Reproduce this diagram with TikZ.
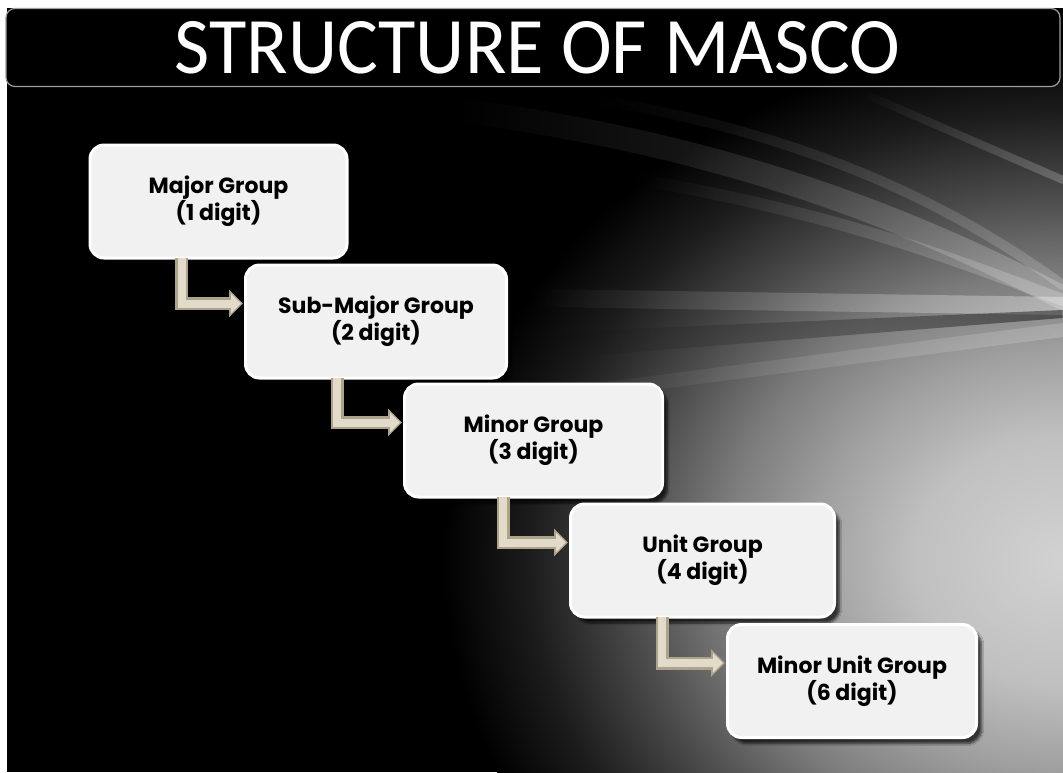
\documentclass[tikz,border=0pt]{standalone}
\usepackage{graphicx}
\usepackage{fontspec}
\setmainfont{Poppins}
\newfontfamily\titlefont{Carlito}
\usetikzlibrary{shadows,shadows.blur,calc,arrows.meta,fadings}
\definecolor{arrowc}{HTML}{E2DBC9}
\definecolor{arrowd}{HTML}{ADA38B}
\definecolor{boxfill}{HTML}{F1F1F1}
\definecolor{gA}{HTML}{D2D2D2}
\definecolor{gB}{HTML}{C0C0C0}
\definecolor{gC}{HTML}{A0A0A0}
\definecolor{gD}{HTML}{7C7C7C}
\definecolor{gE}{HTML}{4A4A4A}
\definecolor{gF}{HTML}{1C1C1C}
\pgfdeclareradialshading{glow}{\pgfpoint{0bp}{0bp}}{color(0bp)=(gA); color(6bp)=(gB); color(10bp)=(gC); color(13.7bp)=(gD); color(17.6bp)=(gE); color(21.5bp)=(gF); color(25bp)=(black); color(50bp)=(black)}
\tikzset{
  box/.style={rounded corners=14pt, fill=boxfill, draw=white, line width=3pt,
    minimum height=113pt, align=center, text=black,
    font=\bfseries\fontsize{22}{27}\selectfont,
    blur shadow={shadow xshift=5pt, shadow yshift=-6pt, shadow blur steps=8, shadow opacity=70}},
  elbowedge/.style={draw=arrowd, line width=13pt, shorten >=1pt,
    -{Triangle[length=14pt,width=27pt]}},
  elbow/.style={draw=arrowc, line width=8pt, shorten >=3pt,
    -{Triangle[length=10pt,width=19pt]}},
  ray/.style={white, line cap=round, path fading=west},
  titlebar/.style={rounded corners=9pt, fill=black, draw=gray!75, line width=1.2pt,
    minimum width=1054pt, minimum height=78pt, inner sep=0pt}
}
\begin{document}
\begin{tikzpicture}[x=1pt,y=-1pt]
\useasboundingbox (0,0) rectangle (1063,772);
\fill[white] (0,0) rectangle (1063,772);
\fill[black] (7,8) rectangle (1063,772);
\begin{scope}
  \clip (7,8) rectangle (1063,772);
  \shade[shading=glow] (1063,560) ellipse [x radius=620pt, y radius=520pt];
  % streaks converging to the right
  \draw[ray, opacity=0.22, line width=24pt] (470,112) .. controls (760,150) and (950,240) .. (1063,298);
  \draw[ray, opacity=0.18, line width=10pt] (600,100) .. controls (840,140) and (980,225) .. (1063,285);
  \draw[ray, opacity=0.22, line width=8pt] (860,92) -- (1063,180);
  \draw[ray, opacity=0.22, line width=12pt] (640,180) .. controls (850,215) and (980,270) .. (1063,300);
  \draw[ray, opacity=0.35, line width=18pt] (540,298) -- (1063,306);
  \fill[black, opacity=0.45, path fading=west] (560,332) -- (1063,310) -- (1063,318) -- (560,358) -- cycle;
  \draw[ray, opacity=0.18, line width=14pt] (520,400) -- (1063,330);
\end{scope}
\node[titlebar] (bar) at (533,47.5) {};
\node[font=\titlefont, text=white, inner sep=0pt] (title) at (537.5,48)
  {\resizebox{725pt}{52pt}{STRUCTURE OF MASCO}};

\node[box, minimum width=257pt] (b1) at (218.5,201.5) {Major Group\\(1 digit)};
\node[box, minimum width=261pt] (b2) at (376,321.5) {Sub-Major Group\\(2 digit)};
\node[box, minimum width=258pt] (b3) at (533.5,440.5) {Minor Group\\(3 digit)};
\node[box, minimum width=264pt] (b4) at (702.5,560.5) {Unit Group\\(4 digit)};
\node[box, minimum width=249pt] (b5) at (852,681) {Minor Unit Group\\(6 digit)};

\draw[elbowedge] ($(b1.south west)+(93,-2)$) |- ($(b2.west)+(0,-18)$);
\draw[elbow] ($(b1.south west)+(93,-2)$) |- ($(b2.west)+(0,-18)$);
\draw[elbowedge] ($(b2.south west)+(93,-2)$) |- ($(b3.west)+(0,-18)$);
\draw[elbow] ($(b2.south west)+(93,-2)$) |- ($(b3.west)+(0,-18)$);
\draw[elbowedge] ($(b3.south west)+(100,-2)$) |- ($(b4.west)+(0,-18)$);
\draw[elbow] ($(b3.south west)+(100,-2)$) |- ($(b4.west)+(0,-18)$);
\draw[elbowedge] ($(b4.south west)+(93,-2)$) |- ($(b5.west)+(0,-18)$);
\draw[elbow] ($(b4.south west)+(93,-2)$) |- ($(b5.west)+(0,-18)$);
\end{tikzpicture}
\end{document}
